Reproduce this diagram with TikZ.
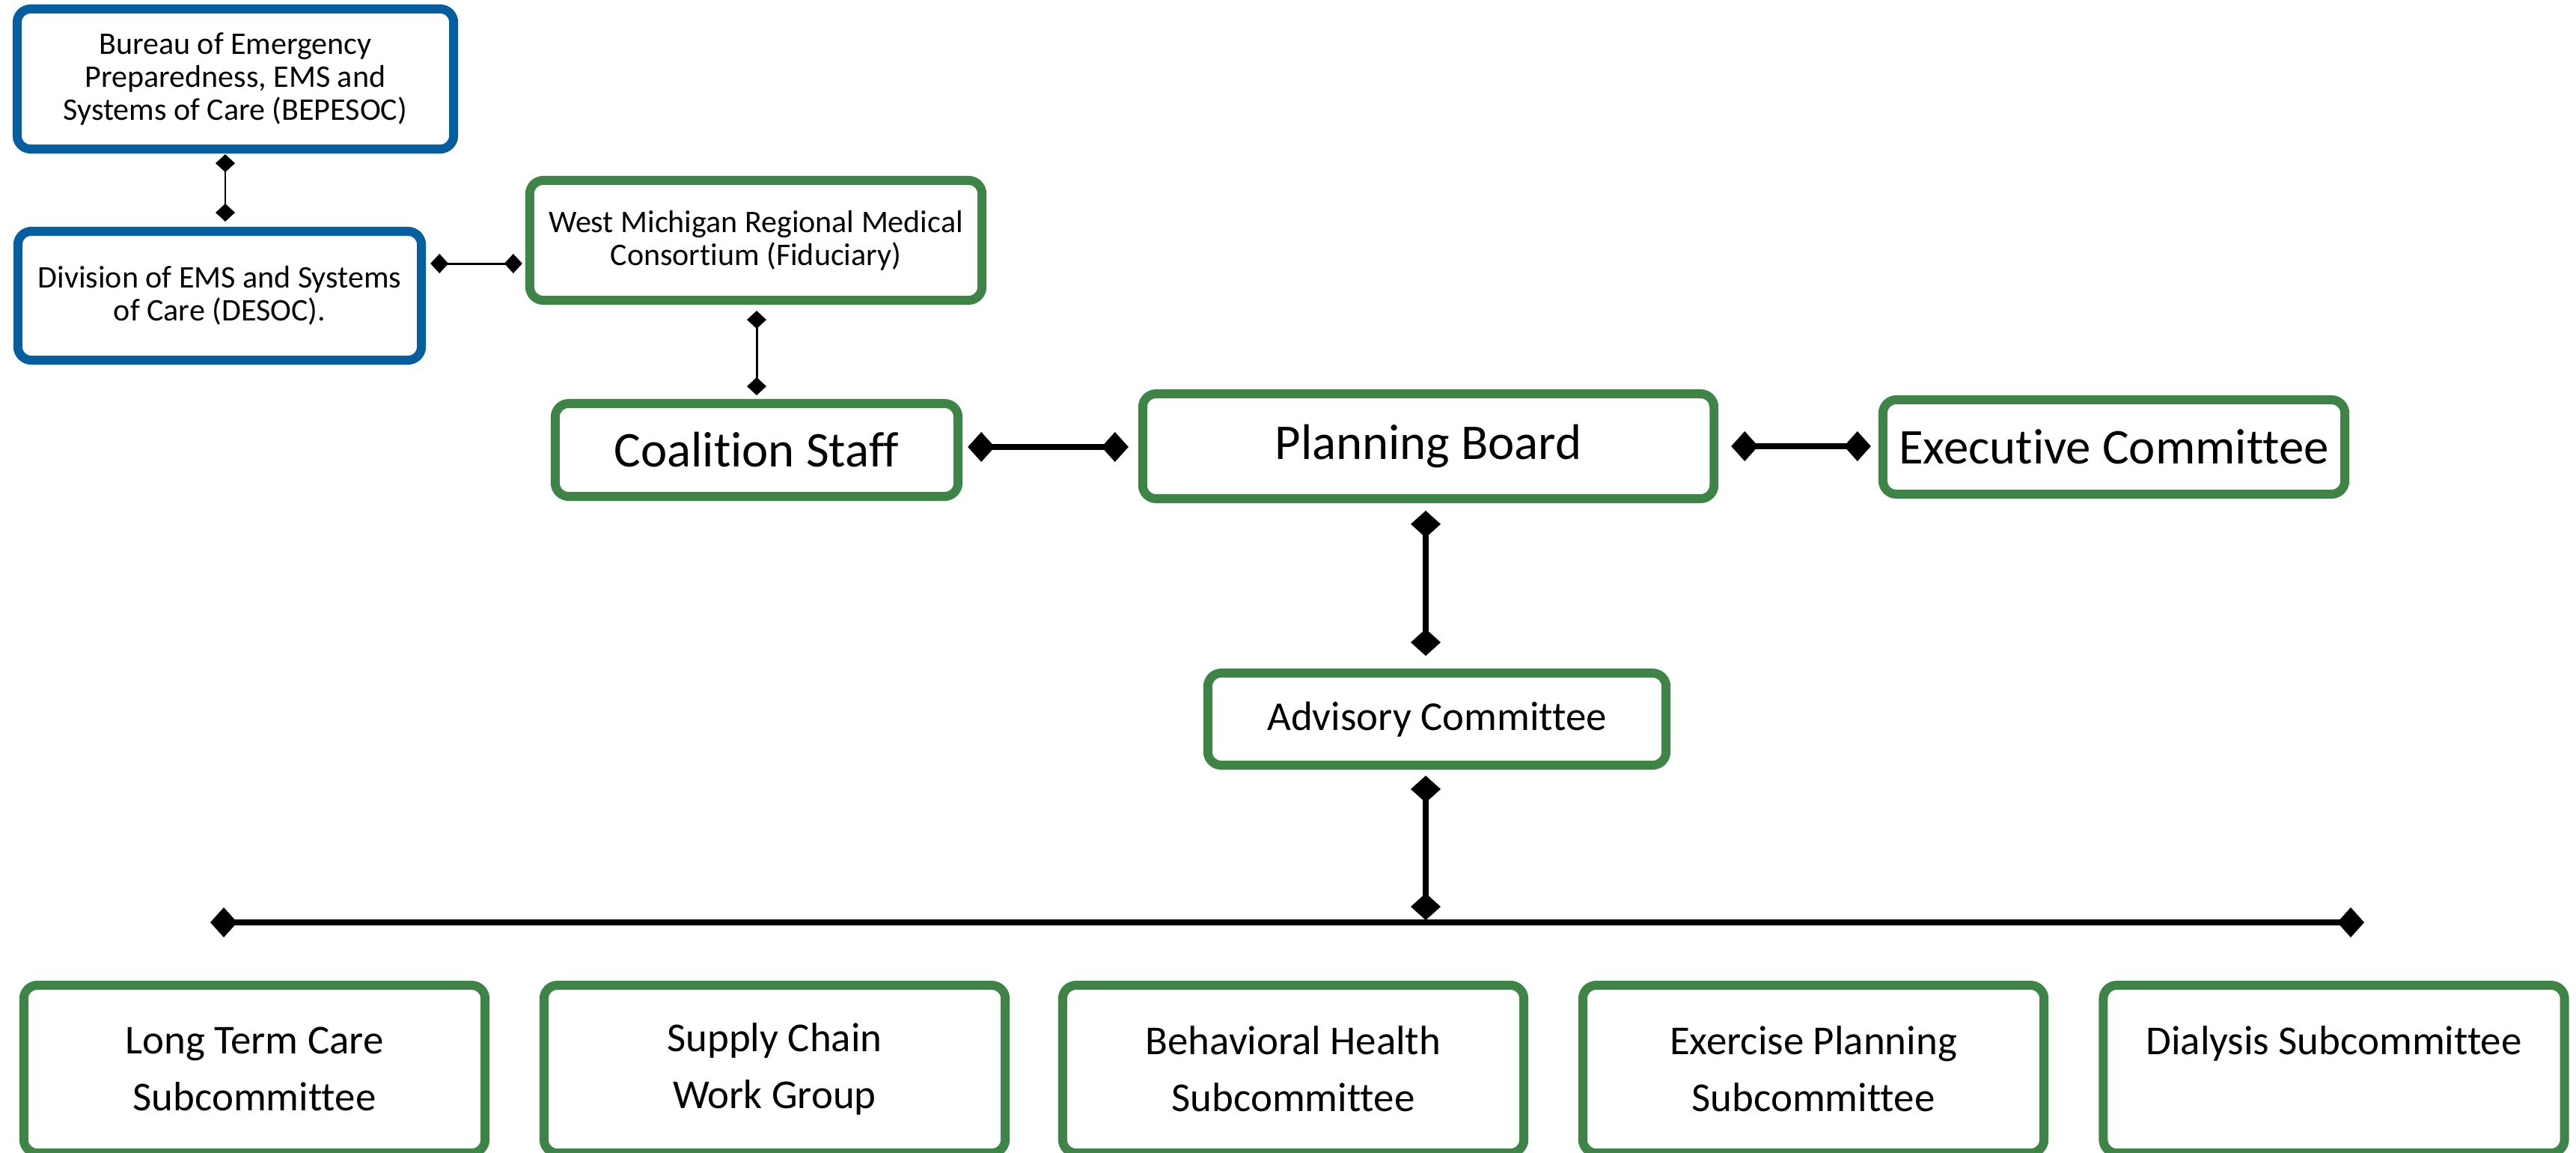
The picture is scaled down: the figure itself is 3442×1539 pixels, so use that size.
\documentclass[tikz,border=0pt]{standalone}
\usepackage{fontspec}
\setmainfont{Carlito}[Ligatures={NoCommon}]
\usetikzlibrary{arrows.meta,calc}
\definecolor{boxblue}{RGB}{5,94,160}
\definecolor{boxgreen}{RGB}{62,132,71}
\tikzset{
  box/.style={draw, line width=3.41pt, rounded corners=0.18cm, fill=white, align=center, inner sep=0pt, text=black},
  bluebox/.style={box, draw=boxblue},
  greenbox/.style={box, draw=boxgreen},
  smalltext/.style={font=\fontsize{11.95pt}{12.6pt}\selectfont},
  bigtext/.style={font=\fontsize{19pt}{22pt}\selectfont},
  midtext/.style={font=\fontsize{15.6pt}{21.6pt}\selectfont},
  thinc/.style={line width=0.85pt, {Diamond[length=0.24cm,width=0.26cm]}-{Diamond[length=0.24cm,width=0.26cm]}},
  thickc/.style={line width=2.3pt, {Diamond[length=0.36cm,width=0.40cm]}-{Diamond[length=0.36cm,width=0.40cm]}}
}
\begin{document}
\begin{tikzpicture}[x=0.01cm, y=-0.01cm]
\useasboundingbox (0,0) rectangle (3442,1539);
\clip (0,0) rectangle (3442,1539);
\fill[white] (0,0) rectangle (3442,1539);

% top-left blue boxes
\node[bluebox, smalltext, minimum width=5.83cm, minimum height=1.87cm] (bep) at (314.5,105.5)
  {Bureau of Emergency\\Preparedness, EMS and\\Systems of Care (BEPESOC)};
\node[bluebox, smalltext, minimum width=5.39cm, minimum height=1.72cm] (desoc) at (293.5,395)
  {Division of EMS and Systems\\of Care (DESOC).};

% fiduciary and staff
\node[greenbox, smalltext, minimum width=6.04cm, minimum height=1.60cm] (wm) at (1010,321)
  {West Michigan Regional Medical\\Consortium (Fiduciary)};
\node[greenbox, bigtext, minimum width=5.38cm, minimum height=1.24cm] (coal) at (1011,601)
  {Coalition Staff};

% board row
\node[greenbox, bigtext, minimum width=7.63cm, minimum height=1.40cm] (pb) at (1908.5,596)
  {Planning Board};
\node[greenbox, bigtext, minimum width=6.17cm, minimum height=1.26cm] (ex) at (2824.5,597)
  {Executive Committee};

% advisory
\node[greenbox, midtext, minimum width=6.12cm, minimum height=1.23cm] (adv) at (1920,960.5)
  {Advisory Committee};

% bottom row
\node[greenbox, midtext, minimum width=6.16cm, minimum height=2.24cm] (ltc) at (340,1428)
  {Long Term Care\\Subcommittee};
\node[greenbox, midtext, minimum width=6.16cm, minimum height=2.24cm] (sc) at (1035,1428)
  {Supply Chain\\Work Group};
\node[greenbox, midtext, minimum width=6.16cm, minimum height=2.24cm] (bh) at (1728,1428)
  {Behavioral Health\\Subcommittee};
\node[greenbox, midtext, minimum width=6.16cm, minimum height=2.24cm] (epc) at (2423,1428)
  {Exercise Planning\\Subcommittee};
\node[greenbox, midtext, minimum width=6.16cm, minimum height=2.24cm] (dia) at (3118.5,1428)
  {Dialysis Subcommittee\\\phantom{Subcommittee}};

% bus coordinates
\coordinate (busL) at (281,1232);
\coordinate (busR) at (3159,1232);
\coordinate (busT) at (1905,1229);

% connectors
\draw[thinc] ($(bep.south)+(-13.5,1)$) -- ($(desoc.north)+(7.5,-7)$);
\draw[thinc] ($(desoc.east)+(6,-43)$) -- ($(wm.west)+(-4,31)$);
\draw[thinc] ($(wm.south)+(1,8)$) -- ($(coal.north)+(0,-5)$);
\draw[thickc] ($(coal.east)+(7,-4)$) -- ($(pb.west)+(-13,1)$);
\draw[thickc] ($(pb.east)+(17,0)$) -- ($(ex.west)+(-10,-1)$);
\draw[thickc] ($(pb.south)+(-3.5,10)$) -- ($(adv.north)+(-15,-17)$);
\draw[thickc] ($(adv.south)+(-15,8)$) -- (busT);
\draw[thickc] (busL) -- (busR);
\end{tikzpicture}
\end{document}
